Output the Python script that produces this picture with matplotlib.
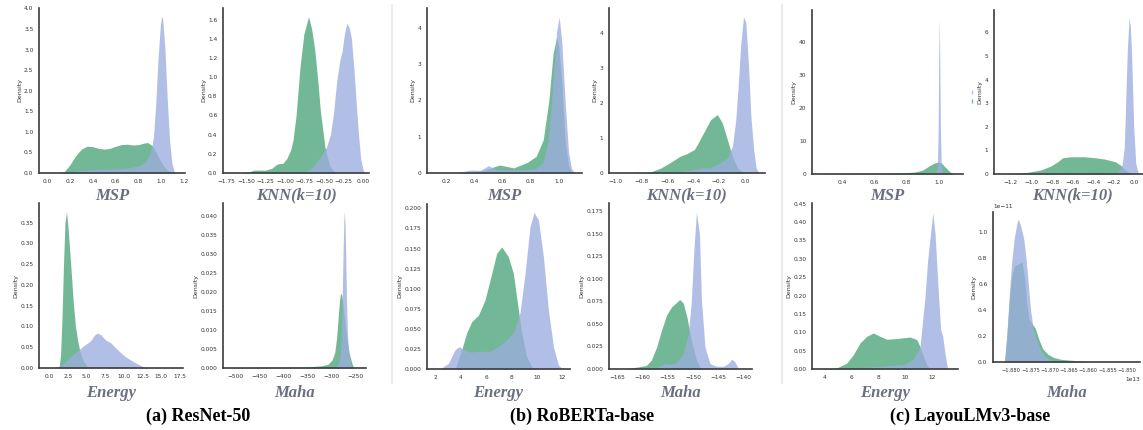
import numpy as np
import matplotlib
matplotlib.use('Agg')
import matplotlib.pyplot as plt
from matplotlib.lines import Line2D
from matplotlib.patches import Patch
from matplotlib.ticker import MultipleLocator

# density curves: (score, density); green = OOD, blue = ID
resnet_msp_ood = [(0.10, 0), (0.15, 0.03), (0.20, 0.2), (0.25, 0.42), (0.30, 0.58), (0.35, 0.65),
                  (0.40, 0.64), (0.45, 0.60), (0.50, 0.58), (0.55, 0.60), (0.60, 0.65), (0.65, 0.69),
                  (0.70, 0.70), (0.75, 0.68), (0.80, 0.69), (0.85, 0.73), (0.88, 0.74), (0.92, 0.66),
                  (0.95, 0.52), (0.98, 0.35), (1.01, 0.2), (1.05, 0.07), (1.10, 0)]
resnet_msp_id = [(0.10, 0), (0.2, 0.02), (0.3, 0.06), (0.4, 0.08), (0.5, 0.09), (0.6, 0.1), (0.7, 0.12),
                 (0.8, 0.17), (0.85, 0.25), (0.88, 0.35), (0.91, 0.55), (0.93, 0.9), (0.95, 1.7),
                 (0.97, 2.8), (0.99, 3.6), (1.0, 3.8), (1.01, 3.75), (1.03, 3.0), (1.05, 1.8),
                 (1.07, 0.8), (1.09, 0.25), (1.11, 0.04), (1.12, 0)]
resnet_knn_ood = [(-1.58, 0), (-1.47, 0.01), (-1.40, 0.03), (-1.33, 0.03), (-1.25, 0.03), (-1.17, 0.05),
                  (-1.11, 0.09), (-1.07, 0.1), (-1.03, 0.1), (-0.98, 0.15), (-0.93, 0.24), (-0.90, 0.34),
                  (-0.86, 0.6), (-0.81, 1.1), (-0.76, 1.45), (-0.70, 1.63), (-0.66, 1.5), (-0.62, 1.28),
                  (-0.58, 0.95), (-0.55, 0.66), (-0.49, 0.27), (-0.43, 0.08), (-0.39, 0.03), (-0.35, 0)]
resnet_knn_id = [(-0.85, 0), (-0.75, 0.01), (-0.66, 0.05), (-0.58, 0.13), (-0.52, 0.2), (-0.47, 0.27),
                 (-0.42, 0.4), (-0.38, 0.62), (-0.34, 0.95), (-0.30, 1.17), (-0.27, 1.27), (-0.24, 1.45),
                 (-0.21, 1.56), (-0.18, 1.52), (-0.15, 1.4), (-0.12, 1.1), (-0.09, 0.75), (-0.06, 0.4),
                 (-0.03, 0.14), (0.0, 0.03), (0.02, 0)]
resnet_energy_ood = [(1.3, 0), (1.5, 0.03), (1.7, 0.12), (1.9, 0.25), (2.1, 0.35), (2.3, 0.376), (2.5, 0.34),
                     (2.7, 0.29), (2.9, 0.24), (3.2, 0.16), (3.5, 0.1), (3.8, 0.065), (4.1, 0.04),
                     (4.5, 0.02), (5.0, 0.005), (5.5, 0)]
resnet_energy_id = [(0.5, 0), (1.5, 0.005), (2.5, 0.02), (3.5, 0.037), (4.5, 0.052), (5.5, 0.065), (6.0, 0.078),
                    (6.4, 0.084), (6.9, 0.08), (7.5, 0.068), (8.2, 0.061), (8.8, 0.05), (9.5, 0.038),
                    (10.2, 0.027), (11.0, 0.018), (11.8, 0.01), (12.6, 0.003), (13.5, 0)]
resnet_maha_ood = [(-525, 0), (-500, 0.0001), (-450, 0.0002), (-400, 0.0002), (-350, 0.0003), (-320, 0.0006),
                   (-308, 0.001), (-300, 0.002), (-294, 0.004), (-290, 0.008), (-287, 0.013), (-284.5, 0.017),
                   (-282, 0.0197), (-279, 0.019), (-276, 0.016), (-272, 0.011), (-268, 0.007), (-264, 0.004),
                   (-260, 0.002), (-255, 0)]
resnet_maha_id = [(-292, 0), (-287, 0.001), (-283, 0.003), (-280.5, 0.008), (-278.5, 0.018), (-276.5, 0.031),
                  (-275, 0.039), (-274, 0.041), (-272.5, 0.038), (-271, 0.029), (-269.5, 0.018),
                  (-267.5, 0.009), (-265, 0.004), (-262, 0.0015), (-258, 0)]

roberta_msp_ood = [(0.30, 0), (0.40, 0.03), (0.48, 0.08), (0.54, 0.17), (0.58, 0.22), (0.62, 0.19), (0.68, 0.14),
                   (0.73, 0.22), (0.78, 0.3), (0.84, 0.46), (0.89, 0.92), (0.93, 2.0), (0.96, 3.3),
                   (0.986, 3.76), (1.0, 3.5), (1.022, 2.5), (1.045, 0.9), (1.07, 0.2), (1.09, 0)]
roberta_msp_id = [(0.25, 0), (0.31, 0.03), (0.37, 0.08), (0.41, 0.08), (0.44, 0.07), (0.47, 0.13), (0.50, 0.2),
                  (0.53, 0.15), (0.56, 0.1), (0.62, 0.08), (0.68, 0.08), (0.76, 0.09), (0.84, 0.12),
                  (0.89, 0.3), (0.927, 0.9), (0.962, 2.6), (0.985, 3.9), (1.003, 4.3), (1.022, 3.6),
                  (1.045, 2.0), (1.069, 0.6), (1.09, 0.12), (1.116, 0)]
roberta_knn_ood = [(-0.86, 0), (-0.73, 0.03), (-0.65, 0.14), (-0.58, 0.29), (-0.50, 0.48), (-0.45, 0.55),
                   (-0.39, 0.67), (-0.36, 0.86), (-0.32, 1.14), (-0.265, 1.52), (-0.213, 1.67),
                   (-0.174, 1.43), (-0.135, 0.95), (-0.096, 0.48), (-0.057, 0.14), (-0.018, 0.03), (0.02, 0)]
roberta_knn_id = [(-0.86, 0), (-0.47, 0.05), (-0.34, 0.14), (-0.265, 0.15), (-0.19, 0.29), (-0.135, 0.43),
                  (-0.096, 0.76), (-0.07, 1.52), (-0.05, 2.57), (-0.031, 3.71), (-0.01, 4.46), (0.008, 4.29),
                  (0.029, 3.05), (0.047, 1.62), (0.068, 0.67), (0.088, 0.14), (0.11, 0)]
roberta_energy_ood = [(3.55, 0), (4.08, 0.024), (4.47, 0.045), (4.87, 0.059), (5.4, 0.067), (5.92, 0.086),
                      (6.45, 0.119), (6.84, 0.144), (7.24, 0.152), (7.76, 0.14), (8.16, 0.119), (8.55, 0.074),
                      (8.82, 0.045), (9.2, 0.016), (9.6, 0.003), (9.87, 0)]
roberta_energy_id = [(2.37, 0), (3.03, 0.007), (3.55, 0.024), (3.89, 0.028), (4.2, 0.024), (4.74, 0.021),
                     (5.53, 0.022), (6.32, 0.022), (6.97, 0.028), (7.63, 0.036), (8.16, 0.045), (8.68, 0.07),
                     (9.08, 0.119), (9.47, 0.177), (9.79, 0.195), (10.13, 0.186), (10.53, 0.14),
                     (10.92, 0.074), (11.32, 0.028), (11.71, 0.005), (12.05, 0)]
roberta_maha_ood = [(-163.5, 0), (-161.2, 0.002), (-159.2, 0.004), (-158.2, 0.01), (-157.2, 0.024),
                    (-156.2, 0.043), (-155.2, 0.06), (-154.2, 0.069), (-153.2, 0.074), (-152.6, 0.077),
                    (-151.9, 0.073), (-151.2, 0.058), (-150.3, 0.032), (-149.3, 0.01), (-148.6, 0.002),
                    (-147.9, 0)]
roberta_maha_id = [(-157.9, 0), (-156.2, 0.004), (-155.5, 0.006), (-154.5, 0.005), (-153.2, 0.007),
                   (-151.9, 0.017), (-150.9, 0.039), (-150.3, 0.076), (-149.8, 0.132), (-149.3, 0.174),
                   (-148.7, 0.15), (-148.3, 0.076), (-147.6, 0.024), (-146.6, 0.006), (-145.3, 0.003),
                   (-144.0, 0.003), (-143.0, 0.006), (-142.3, 0.011), (-141.7, 0.008), (-141.0, 0.0005),
                   (-140.7, 0)]

layoutlm_msp_ood = [(0.23, 0), (0.3, 0.05), (0.4, 0.1), (0.5, 0.2), (0.6, 0.25), (0.7, 0.28), (0.78, 0.35),
                    (0.85, 0.6), (0.9, 1.2), (0.94, 2.5), (0.97, 3.3), (0.995, 3.6), (1.015, 3.4),
                    (1.037, 2.2), (1.068, 0.7), (1.09, 0)]
layoutlm_msp_id = [(0.96, 0), (0.98, 0.3), (0.99, 2.0), (0.995, 12), (0.999, 35), (1.002, 47.5), (1.005, 38),
                   (1.009, 15), (1.014, 3), (1.02, 0.5), (1.035, 0)]
layoutlm_knn_ood = [(-1.237, 0), (-1.04, 0.07), (-0.909, 0.17), (-0.811, 0.34), (-0.745, 0.52), (-0.696, 0.69),
                    (-0.614, 0.73), (-0.483, 0.73), (-0.384, 0.69), (-0.286, 0.63), (-0.187, 0.52),
                    (-0.138, 0.38), (-0.089, 0.17), (-0.04, 0.03), (-0.006, 0)]
layoutlm_knn_id = [(-0.45, 0), (-0.3, 0.02), (-0.19, 0.05), (-0.15, 0.12), (-0.12, 0.4), (-0.1, 1.1),
                   (-0.09, 2.4), (-0.08, 3.9), (-0.07, 5.25), (-0.053, 6.64), (-0.04, 6.2), (-0.03, 5.25),
                   (-0.02, 3.8), (-0.008, 2.0), (0.012, 0.45), (0.035, 0.05), (0.05, 0)]
layoutlm_energy_ood = [(3.68, 0), (4.92, 0.003), (5.67, 0.016), (6.16, 0.039), (6.66, 0.071), (7.16, 0.089),
                       (7.65, 0.098), (8.15, 0.089), (8.65, 0.081), (9.4, 0.083), (10.39, 0.087),
                       (10.89, 0.08), (11.13, 0.061), (11.38, 0.034), (11.63, 0.012), (11.88, 0)]
layoutlm_energy_id = [(4.2, 0), (7.4, 0.005), (9.9, 0.012), (10.6, 0.025), (11.13, 0.061), (11.5, 0.197),
                      (11.7, 0.297), (12.08, 0.425), (12.25, 0.369), (12.5, 0.206), (12.67, 0.107),
                      (12.82, 0.089), (12.99, 0.043), (13.17, 0.003), (13.25, 0)]
# Maha scores for LayoutLMv3 are in units of 1e13, densities in units of 1e-11
layoutlm_maha_ood = [(-1.8818, 0), (-1.8812, 0.2), (-1.8806, 0.45), (-1.8800, 0.65), (-1.8792, 0.74),
                     (-1.8780, 0.76), (-1.8772, 0.77), (-1.8766, 0.65), (-1.8760, 0.45), (-1.8754, 0.33),
                     (-1.8747, 0.3), (-1.8738, 0.26), (-1.8728, 0.17), (-1.8718, 0.1), (-1.8705, 0.06),
                     (-1.8690, 0.035), (-1.8670, 0.02), (-1.8630, 0.01), (-1.8600, 0)]
layoutlm_maha_id = [(-1.8818, 0), (-1.8812, 0.2), (-1.8806, 0.5), (-1.8800, 0.75), (-1.8793, 0.95),
                    (-1.8785, 1.08), (-1.8782, 1.10), (-1.8776, 1.05), (-1.8768, 0.95), (-1.8762, 0.8),
                    (-1.8756, 0.6), (-1.8750, 0.4), (-1.8744, 0.27), (-1.8735, 0.18), (-1.8725, 0.1),
                    (-1.8712, 0.04), (-1.8695, 0.01), (-1.8680, 0)]

score_names = ['MSP', 'KNN(k=10)', 'Energy', 'Maha']
captions = ['(a) ResNet-50', '(b) RoBERTa-base', '(c) LayouLMv3-base']

GREEN = '#50a77c'
BLUE = '#9caedf'
W, H = 1143, 430

fig = plt.figure(figsize=(W / 100, H / 100), dpi=100)


def place(box):
    l, t, r, b = box
    return fig.add_axes([l / W, 1 - b / H, (r - l) / W, (b - t) / H])


def kde_panel(box, ood, idd, xlim, ylim, xstep, ystep, label, label_y, xs=1.0, ys=1.0):
    ax = place(box)
    ox, oy = zip(*ood)
    ix, iy = zip(*idd)
    ax.fill_between(np.array(ox) * xs, np.array(oy) * ys, color=GREEN, alpha=0.8, lw=0)
    ax.fill_between(np.array(ix) * xs, np.array(iy) * ys, color=BLUE, alpha=0.78, lw=0)
    ax.set_xlim(xlim[0] * xs, xlim[1] * xs)
    ax.set_ylim(ylim[0] * ys, ylim[1] * ys)
    ax.xaxis.set_major_locator(MultipleLocator(xstep * xs))
    ax.yaxis.set_major_locator(MultipleLocator(ystep * ys))
    for s in ['top', 'right']:
        ax.spines[s].set_visible(False)
    for s in ['left', 'bottom']:
        ax.spines[s].set_color('#3c3c3c')
        ax.spines[s].set_linewidth(1.2)
    ax.tick_params(length=0, labelsize=4.2, pad=4, colors='#333333')
    ax.set_ylabel('Density', fontsize=4.5, labelpad=1.5, color='#333333')
    l, t, r, b = box
    fig.text((l + r) / 2 / W, 1 - label_y / H, label, ha='center', va='center',
             fontsize=12, fontweight='bold', fontstyle='italic',
             family='Liberation Serif', color='#6b7080')
    return ax


TOP, BOT = 195.5, 393

# (a) ResNet-50
kde_panel((39, 8, 185, 173), resnet_msp_ood, resnet_msp_id, (-0.07, 1.205), (0, 4.01), 0.2, 0.5, score_names[0], TOP)
kde_panel((223, 8, 369, 173), resnet_knn_ood, resnet_knn_id, (-1.797, 0.075), (0, 1.72), 0.25, 0.2, score_names[1], TOP)
kde_panel((39, 203, 183, 368), resnet_energy_ood, resnet_energy_id, (-1.38, 17.9), (0, 0.397), 2.5, 0.05, score_names[2], BOT)
kde_panel((223, 203, 366, 368), resnet_maha_ood, resnet_maha_id, (-526, -229), (0, 0.0434), 50, 0.005, score_names[3], BOT)

# (b) RoBERTa-base
kde_panel((427, 8, 582, 173), roberta_msp_ood, roberta_msp_id, (0.065, 1.165), (0, 4.55), 0.2, 1, score_names[0], TOP)
kde_panel((609, 8, 765, 173), roberta_knn_ood, roberta_knn_id, (-1.05, 0.156), (0, 4.71), 0.2, 1, score_names[1], TOP)
kde_panel((427, 204, 570, 369), roberta_energy_ood, roberta_energy_id, (1.34, 12.63), (0, 0.2054), 2, 0.025, score_names[2], BOT)
kde_panel((609, 203, 752, 369), roberta_maha_ood, roberta_maha_id, (-166.6, -138.3), (0, 0.184), 5, 0.025, score_names[3], BOT)

# (c) LayoutLMv3-base
kde_panel((812, 10, 963, 174), layoutlm_msp_ood, layoutlm_msp_id, (0.21, 1.15), (0, 49.8), 0.2, 10, score_names[0], TOP)
ax_knn = kde_panel((994, 10, 1150, 174), layoutlm_knn_ood, layoutlm_knn_id, (-1.363, 0.15), (0, 6.95), 0.2, 1, score_names[1], TOP)
kde_panel((812, 203, 958, 369), layoutlm_energy_ood, layoutlm_energy_id, (3.08, 13.96), (0, 0.452), 2, 0.05, score_names[2], BOT)
ax_maha = kde_panel((993, 212, 1140, 362), layoutlm_maha_ood, layoutlm_maha_id, (-1.8848, -1.8465), (0, 1.156),
                    0.005, 0.2, score_names[3], BOT, xs=1e13, ys=1e-11)
ax_maha.ticklabel_format(axis='x', useOffset=False)
ax_maha.tick_params(axis='x', labelsize=3.7)
ax_maha.xaxis.get_offset_text().set_fontsize(4.2)
ax_maha.yaxis.get_offset_text().set_fontsize(4.2)

# stray empty legend left of the KNN panel
ax_knn.legend(handles=[Patch(color=BLUE, alpha=0.78), Patch(color=GREEN, alpha=0.8)], labels=['', ''],
              loc='center', bbox_to_anchor=(-0.141, 0.47), handlelength=0.15, handleheight=0.8,
              handletextpad=0, labelspacing=0.6, borderpad=0, frameon=False, fontsize=4)

# group separators and captions
for xs in [392, 782]:
    fig.add_artist(Line2D([xs / W, xs / W], [1 - 5 / H, 1 - 383 / H], color='#ececec', lw=1.5))
for cx, cap in zip([198, 582, 970], captions):
    fig.text(cx / W, 1 - 416 / H, cap, ha='center', va='center', fontsize=13,
             fontweight='bold', family='Liberation Serif', color='black')

fig.savefig('out.png', dpi=100)
